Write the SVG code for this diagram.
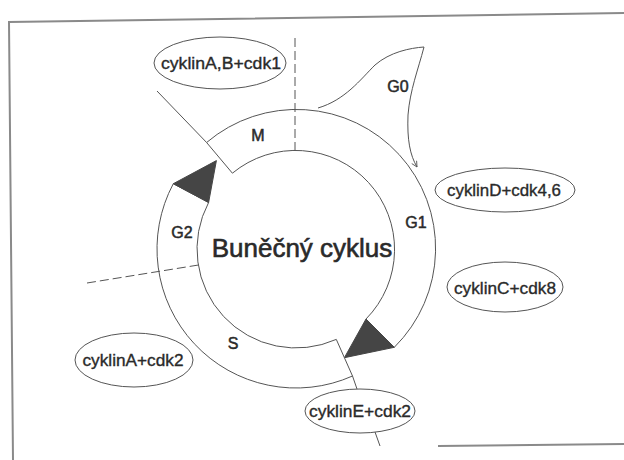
<svg xmlns="http://www.w3.org/2000/svg" width="624" height="460" viewBox="0 0 624 460">
<style>
.frame{fill:none;stroke:#8a8a8a;stroke-width:2}
.seg{fill:#fff;stroke:#555;stroke-width:1}
.tri{fill:#454545;stroke:#454545;stroke-width:1;stroke-linejoin:round}
.ell{fill:#fff;stroke:#555;stroke-width:1}
.ln{fill:none;stroke:#555;stroke-width:1}
.dash{fill:none;stroke:#555;stroke-width:1;stroke-dasharray:9,4}
.lbl{font-family:"Liberation Sans",Arial,sans-serif;font-size:17px;fill:#2a2a2a;stroke:#2a2a2a;stroke-width:0.35;text-anchor:middle}
.ph{font-family:"Liberation Sans",Arial,sans-serif;font-size:16px;fill:#2a2a2a;stroke:#2a2a2a;stroke-width:0.5;text-anchor:middle}
.title{font-family:"Liberation Sans",Arial,sans-serif;font-size:26px;fill:#2a2a2a;stroke:#2a2a2a;stroke-width:0.6;text-anchor:middle}
</style>
<defs>
<marker id="open" viewBox="0 0 10 10" refX="9" refY="5" markerWidth="7" markerHeight="7" orient="auto" markerUnits="userSpaceOnUse">
<path d="M1,1 L9,5 L1,9" fill="none" stroke="#555" stroke-width="1.2"/>
</marker>
</defs>
<rect width="624" height="460" fill="#fff"/>
<g id="frame">
<path class="frame" d="M13,460 L9,22 L624,13"/>
<path class="frame" d="M438,446 L624,444"/>
</g>
<g id="seg-M-G1">
<path class="seg" d="M206.6,142.5 A139,139 0 0 1 394.3,347.3 L366,319 A99,99 0 0 0 232.4,173.2 Z"/>
<polygon class="tri" points="366,319 394.3,347.3 344.4,357.7"/>
</g>
<g id="seg-S-G2">
<path class="seg" d="M352.5,376 A139,139 0 0 1 173.3,183.7 L208.6,202.5 A99,99 0 0 0 336.3,339.4 Z"/>
<polygon class="tri" points="173.3,183.7 208.6,202.5 216.4,160.6"/>
</g>
<g id="connectors">
<line class="ln" x1="206.6" y1="142.5" x2="157" y2="91"/>
<line class="ln" x1="352.5" y1="376" x2="357" y2="389"/>
<line class="ln" x1="375" y1="432" x2="380" y2="446"/>
<line class="dash" x1="295" y1="38" x2="295" y2="150"/>
<line class="dash" x1="87" y1="283" x2="198.5" y2="265"/>
<path class="ln" d="M318,108 C345,100 360,80 375,65 C390,52 410,48 424,47 C418,70 410,90 408,115 C407,140 410,155 417,167" marker-end="url(#open)"/>
</g>
<g id="phases">
<text class="ph" x="258" y="141">M</text>
<text class="ph" x="398" y="92">G0</text>
<text class="ph" x="416" y="228">G1</text>
<text class="ph" x="182" y="238">G2</text>
<text class="ph" x="233" y="349">S</text>
<text class="title" x="302" y="257">Buněčný cyklus</text>
</g>
<g id="cyklinAB-cdk1">
<ellipse class="ell" cx="220" cy="63" rx="66" ry="26"/>
<text class="lbl" x="221" y="69" textLength="120" lengthAdjust="spacingAndGlyphs">cyklinA,B+cdk1</text>
</g>
<g id="cyklinD-cdk46">
<ellipse class="ell" cx="505" cy="190" rx="70" ry="22"/>
<text class="lbl" x="504" y="196" textLength="114" lengthAdjust="spacingAndGlyphs">cyklinD+cdk4,6</text>
</g>
<g id="cyklinC-cdk8">
<ellipse class="ell" cx="505" cy="287" rx="58" ry="25"/>
<text class="lbl" x="505" y="294" textLength="102" lengthAdjust="spacingAndGlyphs">cyklinC+cdk8</text>
</g>
<g id="cyklinA-cdk2">
<ellipse class="ell" cx="134" cy="360" rx="59" ry="27"/>
<text class="lbl" x="133" y="366" textLength="101" lengthAdjust="spacingAndGlyphs">cyklinA+cdk2</text>
</g>
<g id="cyklinE-cdk2">
<ellipse class="ell" cx="360" cy="411" rx="55" ry="22"/>
<text class="lbl" x="360" y="417" textLength="102" lengthAdjust="spacingAndGlyphs">cyklinE+cdk2</text>
</g>
</svg>
